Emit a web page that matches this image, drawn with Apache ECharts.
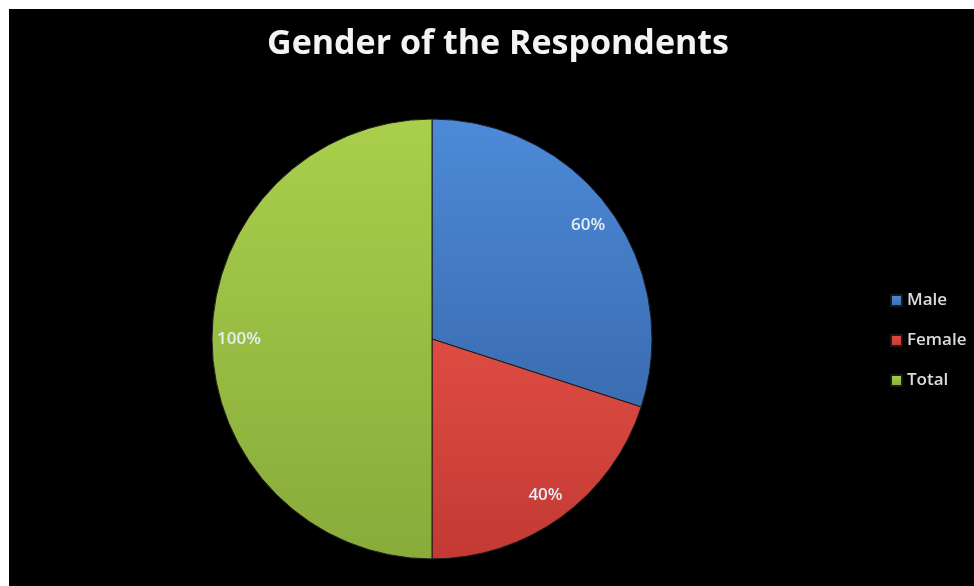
<!DOCTYPE html>
<html><head><meta charset="utf-8">
<script src="https://cdn.jsdelivr.net/npm/echarts@6/dist/echarts.min.js"></script>
<style>html,body{margin:0;padding:0;background:#fff;}#c{position:absolute;left:9px;top:9px;width:965px;height:577px;background:#000;}</style>
</head><body><div id="c"></div>
<script>
const categories = ['Male', 'Female', 'Total'];
const values = [60, 40, 100];
const titleText = 'Gender of the Respondents';
const colorsTop = ['#4d8ad8', '#de4c43', '#a9cf4c'];
const colorsBottom = ['#3a6cb0', '#c23a33', '#88ab3a'];

const chart = echarts.init(document.getElementById('c'));
const data = categories.map((n, i) => ({
  name: n, value: values[i],
  itemStyle: { color: { type: 'linear', x: 0, y: 0, x2: 0, y2: 1, colorStops: [
    { offset: 0, color: colorsTop[i] }, { offset: 1, color: colorsBottom[i] } ] } }
}));
const labelData = categories.map((n, i) => ({ name: n, value: values[i] }));
chart.setOption({
  backgroundColor: '#000',
  animation: false,
  title: { text: titleText, left: 484, top: 13, textAlign: 'center',
    textStyle: { color: '#f4f4f4', fontSize: 34, fontWeight: 'bold', fontFamily: 'Open Sans' } },
  legend: { orient: 'vertical', left: 876, top: 275, itemWidth: 11, itemHeight: 11, itemGap: 17,
    icon: 'rect', data: categories,
    textStyle: { color: '#dcdcdc', fontSize: 17, fontWeight: 600, fontFamily: 'Open Sans', lineHeight: 23 } },
  series: [
    { type: 'pie', center: [423, 330], radius: [0, 220], startAngle: 90, clockwise: true,
      data: data, label: { show: false }, labelLine: { show: false },
      itemStyle: { borderColor: '#1a1a1a', borderWidth: 1 }, silent: true },
    { type: 'pie', center: [423, 330], radius: [155, 225], startAngle: 90, clockwise: true,
      data: labelData, legendHoverLink: false, silent: true,
      itemStyle: { color: 'rgba(0,0,0,0)', borderWidth: 0 },
      label: { show: true, position: 'inside', formatter: '{c}%', color: '#e6edf5',
        fontSize: 17, fontWeight: 600, fontFamily: 'Open Sans' }, labelLine: { show: false } }
  ]
});
</script></body></html>
